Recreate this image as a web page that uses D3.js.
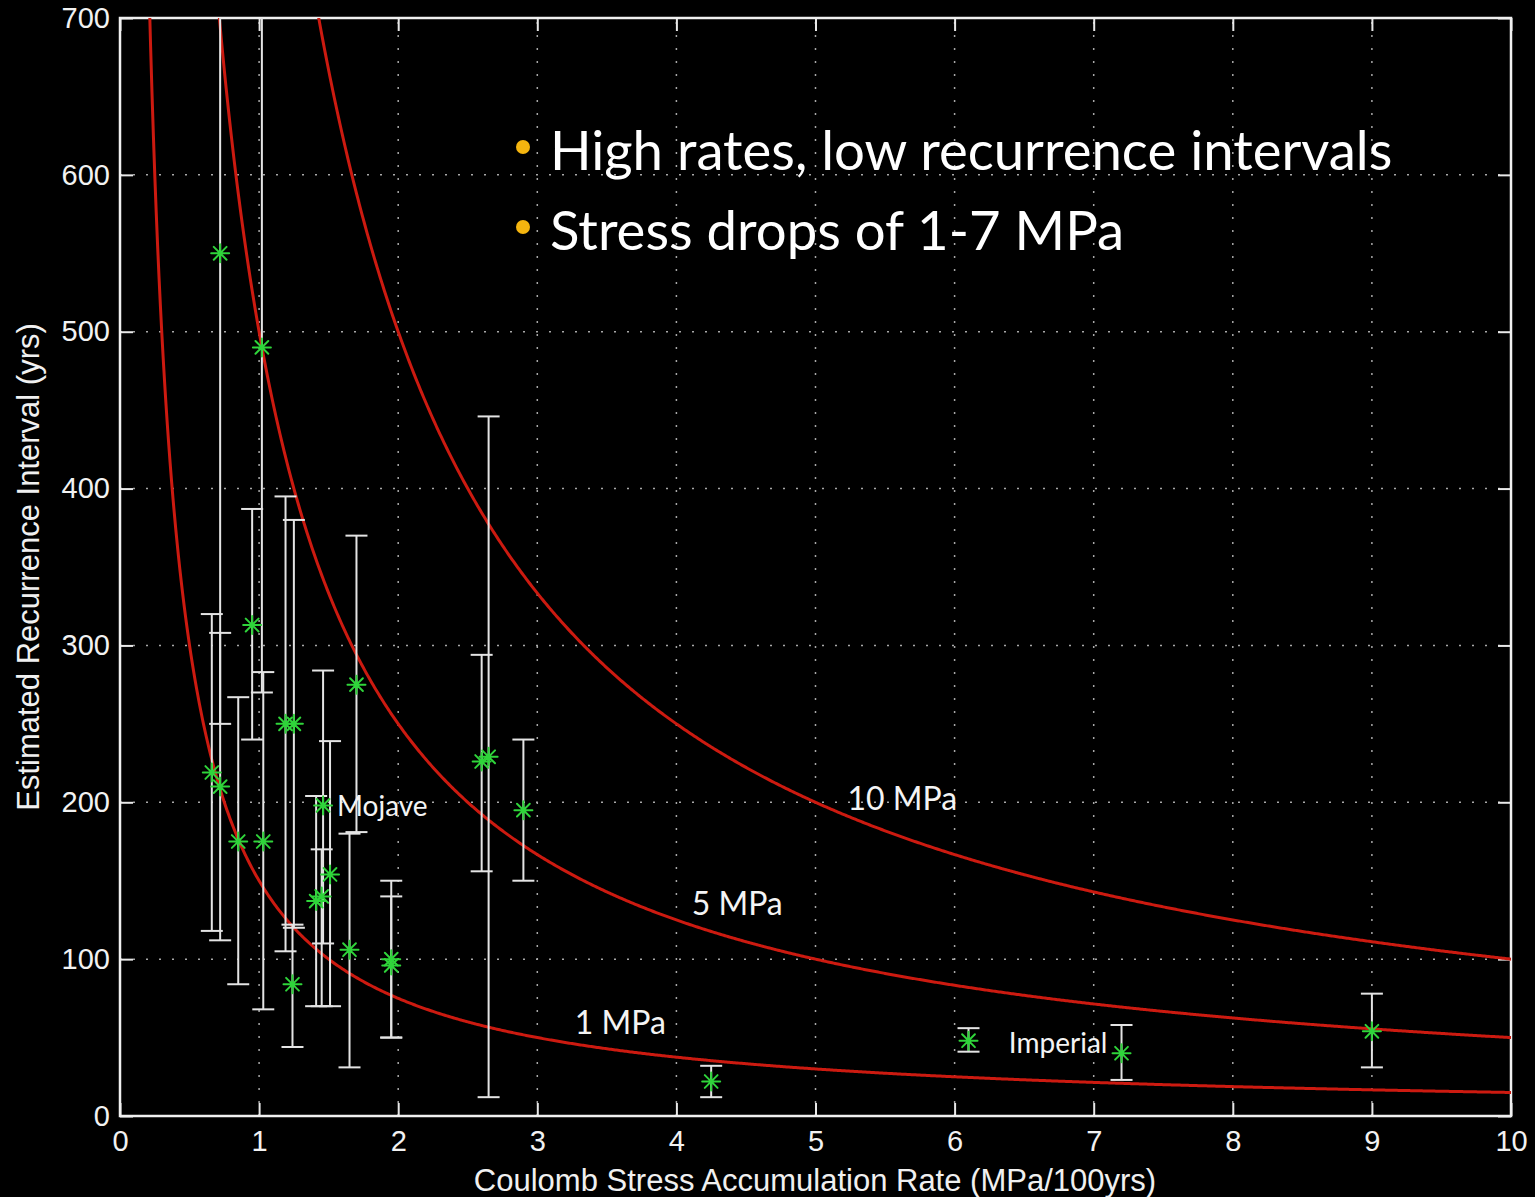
<!DOCTYPE html>
<html>
<head>
<meta charset="utf-8">
<script src="https://cdn.jsdelivr.net/npm/d3@7"></script>
<style>
  html, body { margin: 0; padding: 0; background: #000; }
  svg { display: block; }
</style>
</head>
<body>
<svg id="chart" width="1535" height="1197"></svg>
<script>
// Coulomb stress accumulation rate (MPa/100yrs) per fault segment
const rates     = [0.66, 0.72, 0.72, 0.85, 0.95, 1.02, 1.03, 1.19, 1.25, 1.24, 1.41, 1.45, 1.46, 1.51, 1.65, 1.70, 1.95, 1.95, 2.60, 2.65, 2.90, 4.25, 6.10, 7.20, 9.00];
// Estimated recurrence interval (yrs) with lower / upper bounds
const intervals = [219, 210, 550, 175, 313, 490, 175, 250, 250, 84, 137, 140, 198, 154, 106, 275, 100, 96, 226, 229, 195, 22, 48, 40, 54];
const lows      = [118, 112, 250, 84, 240, 270, 68, 105, 120, 44, 70, 70, 110, 70, 31, 181, 50, 50, 156, 12, 150, 12, 41, 23, 31];
const highs     = [320, 308, 800, 267, 387, 800, 283, 395, 380, 122, 204, 170, 284, 239, 180, 370, 150, 140, 294, 446, 240, 32, 56, 58, 78];

// Constant stress-drop curves: interval = k / rate
const curveLabels = ["1 MPa", "5 MPa", "10 MPa"];
const curveK      = [150, 500, 1000];
const curveLabelX = [3.27, 4.11, 5.23];
const curveLabelY = [60, 136, 203];

// Named faults
const siteNames = ["Mojave", "Imperial"];
const siteX     = [1.56, 6.39];
const siteY     = [198, 47];

const xTicks = [0, 1, 2, 3, 4, 5, 6, 7, 8, 9, 10];
const yTicks = [0, 100, 200, 300, 400, 500, 600, 700];

const bullets = ["High rates, low recurrence intervals", "Stress drops of 1-7 MPa"];

const svg = d3.select("#chart");
const L = 120, R = 1511, T = 18, B = 1116;

const x = d3.scaleLinear().domain([0, 10]).range([L, R]);
const y = d3.scaleLinear().domain([0, 700]).range([B, T]);

svg.append("rect").attr("width", 1535).attr("height", 1197).attr("fill", "#000");

svg.append("defs").append("clipPath").attr("id", "plotClip")
  .append("rect").attr("x", L).attr("y", T).attr("width", R - L).attr("height", B - T);

// Dotted grid
const grid = svg.append("g").attr("stroke", "#a8a8a8").attr("stroke-width", 1.5)
  .attr("stroke-dasharray", "2,11");
grid.selectAll(".gx").data(xTicks.slice(1, -1)).join("line")
  .attr("x1", d => x(d)).attr("x2", d => x(d)).attr("y1", B).attr("y2", T);
grid.selectAll(".gy").data(yTicks.slice(1, -1)).join("line")
  .attr("x1", L).attr("x2", R).attr("y1", d => y(d)).attr("y2", d => y(d));

// Axes with inward ticks on all four sides
const tickLen = 13;
const axisFont = "'Liberation Sans', Arial, sans-serif";
const axStyle = g => {
  g.select(".domain").remove();
  g.selectAll(".tick line").attr("stroke", "#e8e8e8").attr("stroke-width", 2);
  g.selectAll(".tick text").attr("fill", "#f2f2f2")
    .attr("font-family", axisFont).attr("font-size", 29);
};
svg.append("g").attr("transform", `translate(0,${B})`)
  .call(d3.axisBottom(x).tickValues(xTicks).tickSize(-tickLen).tickPadding(14).tickFormat(d3.format("d")))
  .call(axStyle);
svg.append("g").attr("transform", `translate(0,${T})`)
  .call(d3.axisTop(x).tickValues(xTicks).tickSize(-tickLen).tickFormat(""))
  .call(axStyle);
svg.append("g").attr("transform", `translate(${L},0)`)
  .call(d3.axisLeft(y).tickValues(yTicks).tickSize(-tickLen).tickPadding(10).tickFormat(d3.format("d")))
  .call(axStyle);
svg.append("g").attr("transform", `translate(${R},0)`)
  .call(d3.axisRight(y).tickValues(yTicks).tickSize(-tickLen).tickFormat(""))
  .call(axStyle);

// Plot frame
svg.append("rect").attr("x", L).attr("y", T).attr("width", R - L).attr("height", B - T)
  .attr("fill", "none").attr("stroke", "#f0f0f0").attr("stroke-width", 2.5);

const plot = svg.append("g").attr("clip-path", "url(#plotClip)");

// Stress-drop curves
const xs = d3.range(0.18, 10.0001, 0.01);
const line = d3.line().x(d => x(d[0])).y(d => y(d[1]));
plot.selectAll(".curve").data(curveK).join("path")
  .attr("fill", "none").attr("stroke", "#cc1a10").attr("stroke-width", 3)
  .attr("d", k => line(xs.map(v => [v, k / v])));

// Error bars
const capW = 11;
const eb = plot.append("g").attr("stroke", "#e4e4e4").attr("stroke-width", 2);
rates.forEach((r, i) => {
  eb.append("line").attr("x1", x(r)).attr("x2", x(r)).attr("y1", y(lows[i])).attr("y2", y(highs[i]));
  eb.append("line").attr("x1", x(r) - capW).attr("x2", x(r) + capW).attr("y1", y(lows[i])).attr("y2", y(lows[i]));
  eb.append("line").attr("x1", x(r) - capW).attr("x2", x(r) + capW).attr("y1", y(highs[i])).attr("y2", y(highs[i]));
});

// Asterisk markers
const star = "M-9,0H9M0,-9V9M-6.4,-6.4L6.4,6.4M-6.4,6.4L6.4,-6.4";
plot.selectAll(".pt").data(rates).join("path")
  .attr("transform", (d, i) => `translate(${x(d)},${y(intervals[i])})`)
  .attr("d", star).attr("fill", "none").attr("stroke", "#2fd43a").attr("stroke-width", 2)
  .attr("stroke-linecap", "round");

// Curve labels
const labelFont = "Lato, 'Open Sans', sans-serif";
svg.selectAll(".clabel").data(curveLabels).join("text")
  .attr("x", (d, i) => x(curveLabelX[i])).attr("y", (d, i) => y(curveLabelY[i]))
  .attr("dominant-baseline", "central")
  .attr("fill", "#f4f4f4").attr("font-family", labelFont).attr("font-size", 32)
  .text(d => d);

// Fault name labels
svg.selectAll(".slabel").data(siteNames).join("text")
  .attr("x", (d, i) => x(siteX[i])).attr("y", (d, i) => y(siteY[i]))
  .attr("dominant-baseline", "central")
  .attr("fill", "#f4f4f4").attr("font-family", labelFont).attr("font-size", 28)
  .text(d => d);

// Bulleted notes
const bl = svg.append("g");
bullets.forEach((t, i) => {
  const cy = 149 + i * 80;
  bl.append("circle").attr("cx", 523).attr("cy", cy - 2).attr("r", 7).attr("fill", "#f5b50f");
  bl.append("text").attr("x", 550).attr("y", cy).attr("dominant-baseline", "central")
    .attr("fill", "#fff").attr("font-family", labelFont).attr("font-size", 54.5).text(t);
});

// Axis titles
svg.append("text").attr("x", 815).attr("y", 1191).attr("text-anchor", "middle")
  .attr("fill", "#f0f0f0").attr("font-family", axisFont).attr("font-size", 31)
  .text("Coulomb Stress Accumulation Rate (MPa/100yrs)");
svg.append("text").attr("transform", `translate(39,567) rotate(-90)`).attr("text-anchor", "middle")
  .attr("fill", "#f0f0f0").attr("font-family", axisFont).attr("font-size", 31)
  .text("Estimated Recurrence Interval (yrs)");
</script>
</body>
</html>
